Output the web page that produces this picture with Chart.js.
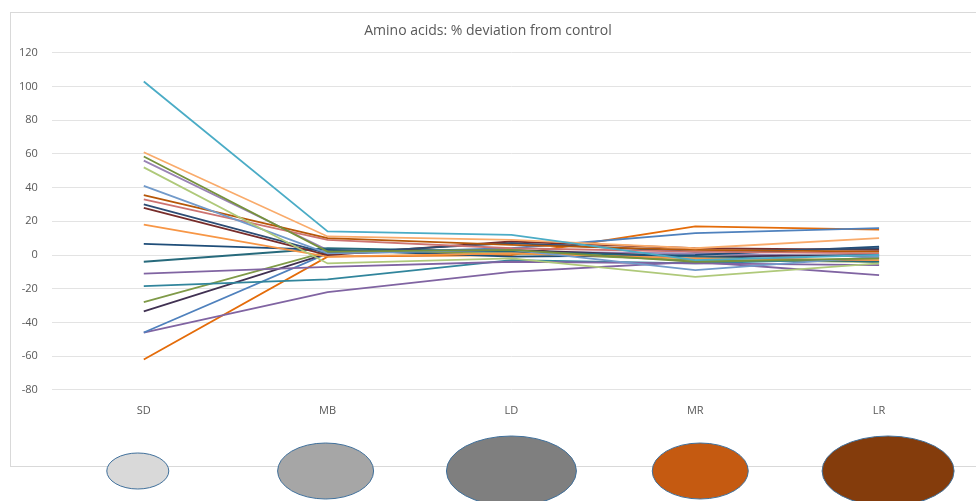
<!DOCTYPE html>
<html>
<head>
<meta charset="utf-8">
<title>Amino acids: % deviation from control</title>
<script src="https://cdn.jsdelivr.net/npm/chart.js@4/dist/chart.umd.min.js"></script>
<style>
  html, body { margin: 0; padding: 0; background: #fff; }
  #wrap { width: 976px; height: 501px; position: relative; }
</style>
</head>
<body>
<div id="wrap"><canvas id="aminoChart" width="976" height="501"></canvas></div>
<script>
const categories = ['SD', 'MB', 'LD', 'MR', 'LR'];

// one line per amino acid, % deviation from control
const s01 = [103, 14, 12, -3, 0];
const s02 = [61, 11, 9, 4, 10];
const s03 = [58.5, 2, 3, -4, -2];
const s04 = [52, -5, -2, -13, -5];
const s05 = [41, 1, 3, -9, -1];
const s06 = [35.5, 10, 6, 3, 2];
const s07 = [33, 9, 4, 2, 1];
const s08 = [30, 1, 7, 2, 4];
const s09 = [28, 0, 8, 4, 3];
const s10 = [18, -1, 1, -2, -3];
const s11 = [6.6, 3, -1, 0, 5];
const s12 = [-4, 4, 2, -1, -4];
const s13 = [-11, -7, -4, -5, -6];
const s14 = [-18.5, -14.5, -3, -5, -2];
const s15 = [-28, 2, 1, -3, -4];
const s16 = [-33.5, 1, 3, -1, 0];
const s17 = [-46, 1, 4, 13, 16];
const s18 = [-46, -22, -10, -4, -12];
const s19 = [-62, -1, 0, 17, 15];
const s20 = [56, 3, 2, 1, -1];

const seriesValues = [s01, s02, s03, s04, s05, s06, s07, s08, s09, s10,
                      s11, s12, s13, s14, s15, s16, s17, s18, s19, s20];
const seriesColors = ['#4BACC6', '#F9AB6B', '#76923C', '#AFC97A', '#729ACA',
                      '#B65708', '#CD7371', '#2C4D75', '#772C2A', '#F79646',
                      '#1F4E79', '#276A7C', '#8064A2', '#31859C', '#7F9A48',
                      '#403152', '#4F81BD', '#8064A2', '#E46C0A', '#9983B5'];

const yTicks = [-80, -60, -40, -20, 0, 20, 40, 60, 80, 100, 120];

// the shapes under the axis, one per category
const blobSizes = [[31, 18], [48, 28], [65, 35], [48, 28], [66, 35]];
const blobColors = ['#D9D9D9', '#A6A6A6', '#7F7F7F', '#C55A11', '#843C0C'];

const frameAndBlobs = {
    id: 'frameAndBlobs',
    beforeDraw(chart) {
        const ctx = chart.ctx;
        ctx.save();
        ctx.fillStyle = '#fff';
        ctx.fillRect(0, 0, chart.width, chart.height);
        ctx.strokeStyle = '#D9D9D9';
        ctx.lineWidth = 1;
        ctx.strokeRect(10.5, 12.5, chart.width, 454);
        ctx.restore();
    },
    afterDraw(chart) {
        const ctx = chart.ctx;
        const x = chart.scales.x;
        ctx.save();
        categories.forEach((c, i) => {
            const cx = x.getPixelForValue(i) + [-6, -2, 0, 5, 9][i];
            ctx.beginPath();
            ctx.ellipse(cx, 471, blobSizes[i][0], blobSizes[i][1], 0, 0, Math.PI * 2);
            ctx.fillStyle = blobColors[i];
            ctx.fill();
            ctx.lineWidth = 1;
            ctx.strokeStyle = '#41719C';
            ctx.stroke();
        });
        ctx.restore();
    }
};

const ctx = document.getElementById('aminoChart').getContext('2d');
new Chart(ctx, {
    type: 'line',
    data: {
        labels: categories,
        datasets: seriesValues.map((v, i) => ({
            label: 'AA' + (i + 1),
            data: v,
            borderColor: seriesColors[i],
            backgroundColor: seriesColors[i],
            borderWidth: 1.8,
            pointRadius: 0,
            tension: 0
        }))
    },
    options: {
        responsive: false,
        animation: false,
        layout: { padding: { left: 5, right: 5, top: 10, bottom: 78 } },
        plugins: {
            legend: { display: false },
            tooltip: { enabled: false },
            title: {
                display: true,
                text: 'Amino acids: % deviation from control',
                color: '#595959',
                font: { family: 'Open Sans', size: 14, weight: 'normal' },
                padding: { top: 13, bottom: 13 }
            }
        },
        scales: {
            x: {
                offset: true,
                grid: { display: false },
                border: { display: false },
                ticks: { color: '#595959', font: { family: 'Open Sans', size: 11 }, padding: 6 }
            },
            y: {
                min: -80,
                max: 120,
                afterBuildTicks: axis => { axis.ticks = yTicks.map(v => ({ value: v })); },
                grid: { color: '#E3E3E3', drawTicks: false },
                border: { display: false },
                ticks: { color: '#595959', font: { family: 'Open Sans', size: 11 }, padding: 14 }
            }
        }
    },
    plugins: [frameAndBlobs]
});
</script>
</body>
</html>
